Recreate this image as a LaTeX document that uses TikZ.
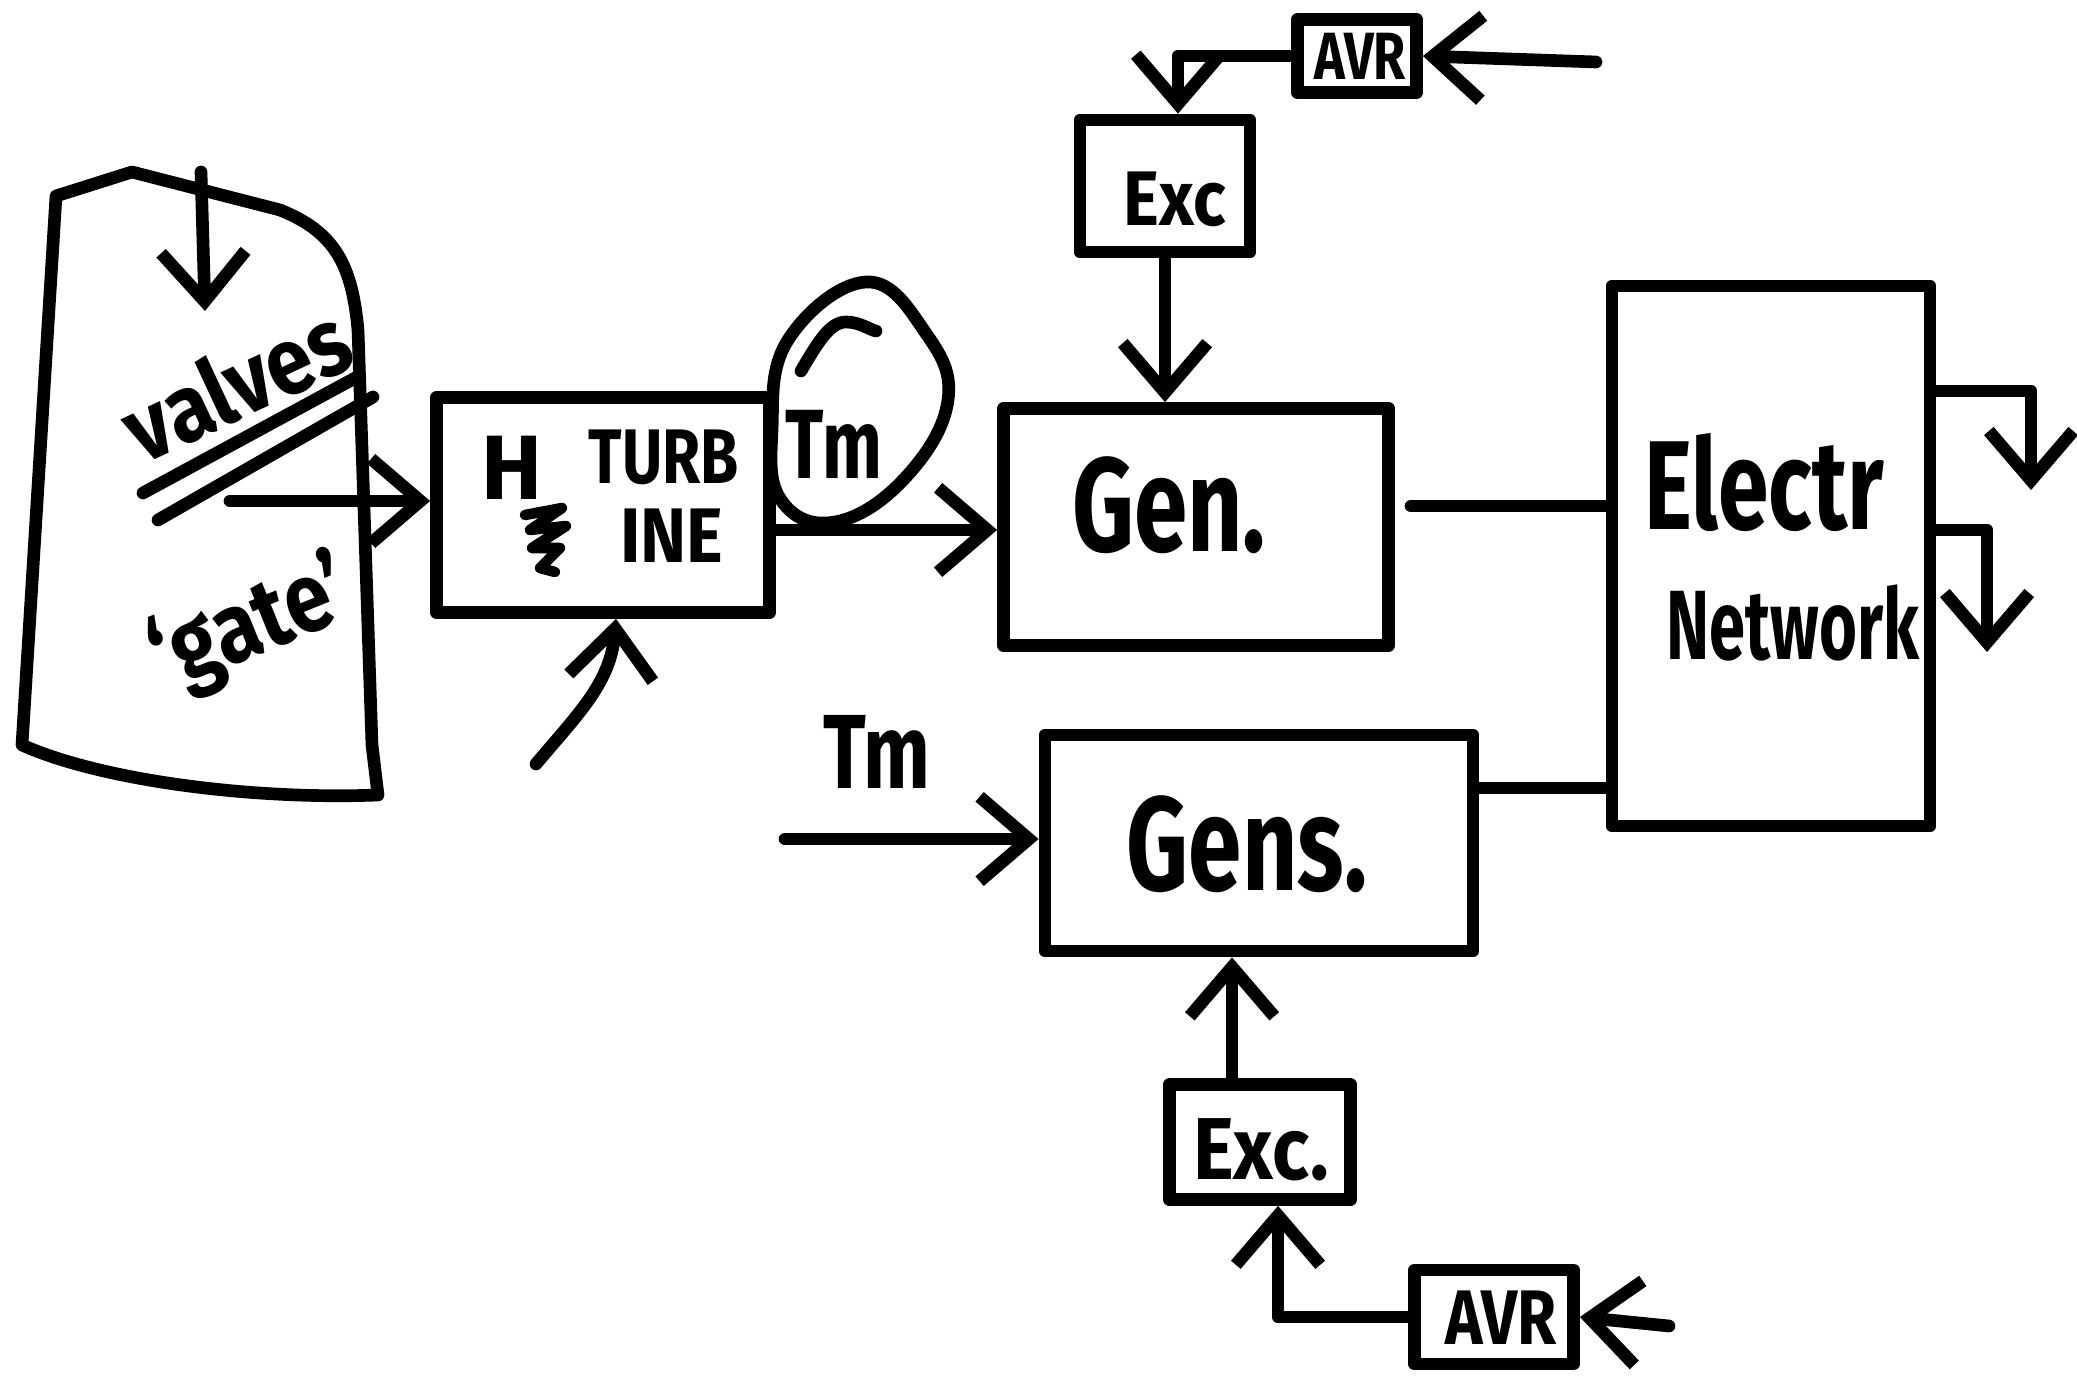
\documentclass[tikz,border=0pt]{standalone}
\usepackage{fontspec}
\setmainfont{Fira Sans}
\usetikzlibrary{arrows.meta,calc}
\newcommand{\hwtext}[2]{\scalebox{#1}[1]{#2}}
\begin{document}
\begin{tikzpicture}[x=0.01cm,y=-0.01cm,line width=3.6pt,line cap=round,line join=round,
  box/.style={draw,line width=3.6pt,rectangle,inner sep=0pt},
  lbl/.style={inner sep=0pt,font=\bfseries},
  arr/.style={-{Straight Barb[length=14pt,width=24pt]}}]
\useasboundingbox (0,0) rectangle (2077,1377);
\fill[white] (0,0) rectangle (2077,1377);

% dam / gate block
\draw (56,196) -- (132,172) -- (280,210) .. controls (335,232) and (352,265) .. (358,330)
  -- (372,745) -- (378,795) .. controls (250,800) and (100,780) .. (22,745) -- cycle;
\coordinate (dtop) at (201,172);
\coordinate (dbot) at (205,311);
\draw[arr] (dtop) -- (dbot);
\node[lbl,rotate=25,font=\bfseries\fontsize{27}{30}\selectfont] (valves) at (236,383) {\hwtext{0.88}{valves}};
\draw (143,493) -- (357,377);
\draw (158,520) -- (373,397);
\node[lbl,rotate=22,font=\bfseries\fontsize{28}{30}\selectfont] (gate) at (252,628) {\hwtext{0.85}{`gate'}};

% turbine
\node[box,minimum width=3.33cm,minimum height=2.15cm] (turb) at (603,505) {};
\node[lbl,font=\bfseries\fontsize{22}{24}\selectfont] (turbA) at (664,457) {\hwtext{0.8}{TURB}};
\node[lbl,font=\bfseries\fontsize{22}{24}\selectfont] (turbB) at (672,536) {\hwtext{0.9}{INE}};
\node[lbl,font=\bfseries\fontsize{26}{28}\selectfont] (turbH) at (512,468) {H};
\draw[line width=3pt] (525,515) -- (562,508) -- (530,530) -- (566,526) -- (532,548) -- (560,548) -- (540,568) -- (555,572);
\coordinate (dmout) at (230,501);
\draw[arr] (dmout) -- (dmout -| turb.west);
\coordinate (tbin) at (536,764);
\draw[arr] (tbin) to[out=50,in=-95] ($(turb.south)+(13,0)$);

% Tm bubble
\draw plot[smooth cycle,tension=0.7] coordinates {(772,430) (788,340) (866,282) (925,332) (948,400) (905,478) (835,522) (781,500)};
\draw (801,371) .. controls (818,342) and (830,322) .. (846,322) .. controls (860,322) and (870,330) .. (876,331);
\node[lbl,font=\bfseries\fontsize{28}{30}\selectfont] (tm1) at (834,444) {\hwtext{0.72}{Tm}};

% generator 1
\node[box,minimum width=3.85cm,minimum height=2.37cm] (gen) at (1196,527) {};
\node[lbl,font=\bfseries\fontsize{38}{40}\selectfont] (genT) at (1169,505) {\hwtext{0.72}{Gen.}};
\draw[arr] ($(turb.east)+(0,25)$) coordinate (t1) -- (t1 -| gen.west);

% exciter / AVR top
\node[box,minimum width=1.70cm,minimum height=1.32cm] (exc1) at (1165,186) {};
\node[lbl,font=\bfseries\fontsize{22}{24}\selectfont] (exc1T) at (1175,199) {\hwtext{0.88}{Exc}};
\node[box,minimum width=1.19cm,minimum height=0.73cm] (avr1) at (1357,56) {};
\node[lbl,font=\bfseries\fontsize{19}{21}\selectfont] (avr1T) at (1360,56) {\hwtext{0.78}{AVR}};
\draw[arr] (exc1.south) -- (exc1.south |- gen.north);
\draw[arr] (avr1.west) -| ($(exc1.north)+(13,0)$);
\coordinate (in1) at (1596,62);
\draw[arr] (in1) -- (avr1.east);

% network
\node[box,minimum width=3.18cm,minimum height=5.40cm] (net) at (1771,556) {};
\node[lbl,font=\bfseries\fontsize{36}{38}\selectfont] (netA) at (1764,483) {\hwtext{0.72}{Electr}};
\node[lbl,font=\bfseries\fontsize{28}{30}\selectfont] (netB) at (1793,623) {\hwtext{0.66}{Network}};
\draw ($(gen.east)+(16,-21)$) coordinate (g1) -- (g1 -| net.west);
\coordinate (o1) at (2031,490);
\coordinate (o2) at (1987,652);
\draw[arr] ($(net.east)+(0,-165)$) -| (o1);
\draw[arr] ($(net.east)+(0,-26)$) -| (o2);

% generators
\node[box,minimum width=4.28cm,minimum height=2.16cm] (gens) at (1259,843) {};
\node[lbl,font=\bfseries\fontsize{38}{40}\selectfont] (gensT) at (1247,844) {\hwtext{0.72}{Gens.}};
\draw ($(gens.east)+(0,-55)$) coordinate (g2) -- (g2 -| net.west);
\node[lbl,font=\bfseries\fontsize{30}{32}\selectfont] (tm2) at (877,752) {\hwtext{0.75}{Tm}};
\coordinate (tmin) at (785,839);
\draw[arr] (tmin) -- (tmin -| gens.west);

% exciter / AVR bottom
\node[box,minimum width=1.81cm,minimum height=1.15cm] (exc2) at (1260,1142) {};
\node[lbl,font=\bfseries\fontsize{25}{27}\selectfont] (exc2T) at (1261,1150) {\hwtext{0.88}{Exc.}};
\node[box,minimum width=1.59cm,minimum height=0.94cm] (avr2) at (1494,1317) {};
\node[lbl,font=\bfseries\fontsize{22}{24}\selectfont] (avr2T) at (1501,1318) {\hwtext{0.82}{AVR}};
\draw[arr] ($(exc2.north)+(-28,0)$) coordinate (e2) -- (e2 |- gens.south);
\draw[arr] (avr2.west) -| ($(exc2.south)+(18,0)$);
\coordinate (in2) at (1669,1326);
\draw[arr] (in2) -- (avr2.east);
\end{tikzpicture}
\end{document}
